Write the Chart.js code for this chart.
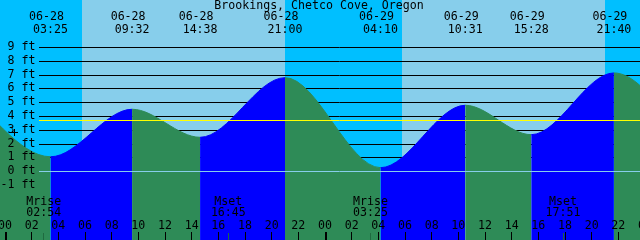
<!DOCTYPE html>
<html>
<head>
<meta charset="utf-8">
<script src="https://cdn.jsdelivr.net/npm/chart.js@4.4.1/dist/chart.umd.min.js"></script>
<style>
html,body{margin:0;padding:0;background:#00BFFF;overflow:hidden;}
canvas{display:block;}
</style>
</head>
<body>
<canvas id="c" width="640" height="240"></canvas>
<script>
// ---- data ----
const title = 'Brookings, Chetco Cove, Oregon';
// tide extremes (first and last lie just outside the visible window)
const tideTimes   = ['06-27 20:20','06-28 03:25','06-28 09:32','06-28 14:38','06-28 21:00','06-29 04:10','06-29 10:31','06-29 15:28','06-29 21:40','06-30 04:55'];
const tideHeights = [6.4, 1.05, 4.49, 2.46, 6.78, 0.26, 4.78, 2.65, 7.12, -0.1];
// events labelled at the top
const topLabelIdx = [1,2,3,4,5,6,7,8];
// sun
const sunriseTimes = ['06-28 05:47','06-29 05:47'];
const sunsetTimes  = ['06-28 21:00','06-29 21:00'];
// moon
const moonLabels = ['Mrise','Mset','Mrise','Mset'];
const moonTimes  = ['06-28 02:54','06-28 16:45','06-29 03:25','06-29 17:51'];
// axes
const yTickValues = [9,8,7,6,5,4,3,2,1,0,-1];
const yTickLabels = ['9 ft','8 ft','7 ft','6 ft','5 ft','4 ft','3 ft','2 ft','1 ft','0 ft','-1 ft'];
const hourTickValues = [0,2,4,6,8,10,12,14,16,18,20,22,24,26,28,30,32,34,36,38,40,42,44,46,48];
const hourTickLabels = ['00','02','04','06','08','10','12','14','16','18','20','22','00','02','04','06','08','10','12','14','16','18','20','22','00'];
const meanLevel = 3.69;

// ---- helpers ----
function toHours(s){
  const [d,t] = s.split(' ');
  const day = parseInt(d.split('-')[1],10);
  const [hh,mm] = t.split(':').map(Number);
  return (day-28)*24 + hh + mm/60;
}
const points = tideTimes.map((t,i)=>({x:toHours(t), y:tideHeights[i]}));
const RISE = '#0000FF', FALL = '#2E8B57';
const segColor = ctx => (ctx.p1.parsed.y > ctx.p0.parsed.y ? RISE : FALL);
const FONT = '11.6px "DejaVu Sans Mono", "Liberation Mono", monospace';

const drawPlugin = {
  id:'tideDeco',
  beforeDraw(chart){
    const {ctx, scales:{x,y}} = chart;
    ctx.save();
    ctx.fillStyle = '#00BFFF';
    ctx.fillRect(0,0,chart.width,chart.height);
    ctx.fillStyle = '#87CEEB';
    for(let i=0;i<sunriseTimes.length;i++){
      const x0 = x.getPixelForValue(toHours(sunriseTimes[i]));
      const x1 = x.getPixelForValue(toHours(sunsetTimes[i]));
      ctx.fillRect(Math.round(x0),0,Math.round(x1)-Math.round(x0),chart.height);
    }
    // grid lines (under the water)
    ctx.strokeStyle = '#000';
    ctx.lineWidth = 1;
    for(const v of yTickValues){
      if(v<=0) continue;
      const py = Math.round(y.getPixelForValue(v))+0.5;
      ctx.beginPath(); ctx.moveTo(39,py); ctx.lineTo(chart.width,py); ctx.stroke();
    }
    ctx.restore();
  },
  afterDatasetsDraw(chart){
    const {ctx, scales:{x,y}} = chart;
    ctx.save();
    // zero & mean lines
    ctx.lineWidth = 1;
    ctx.strokeStyle = '#87CEEB';
    let py = Math.round(y.getPixelForValue(0))+0.5;
    ctx.beginPath(); ctx.moveTo(39,py); ctx.lineTo(chart.width,py); ctx.stroke();
    ctx.strokeStyle = '#FFFF00';
    py = Math.round(y.getPixelForValue(meanLevel))+0.5;
    ctx.beginPath(); ctx.moveTo(39,py); ctx.lineTo(chart.width,py); ctx.stroke();

    ctx.fillStyle = '#000';
    ctx.font = FONT;
    ctx.textBaseline = 'middle';
    // title
    ctx.textAlign = 'center';
    ctx.fillText(title, 319, 6);
    // top event labels
    for(const i of topLabelIdx){
      const px = x.getPixelForValue(points[i].x);
      const [d,t] = tideTimes[i].split(' ');
      ctx.fillText(d, px-4, 17);
      ctx.fillText(t, px, 30);
    }
    // y labels
    ctx.textAlign = 'right';
    yTickValues.forEach((v,i)=>{
      ctx.fillText(yTickLabels[i], 35.5, y.getPixelForValue(v));
    });
    // plus marker
    ctx.fillRect(11,132,7,1);
    ctx.fillRect(14,129,1,7);
    // moon labels
    ctx.textAlign = 'center';
    moonTimes.forEach((t,i)=>{
      const px = x.getPixelForValue(toHours(t));
      ctx.fillStyle = '#000';
      ctx.fillText(moonLabels[i], px, 202);
      ctx.fillText(t.split(' ')[1], px, 213);
      ctx.fillStyle = '#1f6a40';
      ctx.fillRect(Math.floor(px),233,1,7);
    });
    // hour ticks
    ctx.fillStyle = '#000';
    hourTickValues.forEach((v,i)=>{
      const px = x.getPixelForValue(v);
      ctx.fillText(hourTickLabels[i], px, 226);
      if(v % 24 === 0) ctx.fillRect(Math.round(px),232,2,8);
      else ctx.fillRect(Math.floor(px),232,1,8);
    });
    ctx.restore();
  }
};

new Chart(document.getElementById('c'), {
  type:'line',
  data:{
    datasets:[{
      data: points,
      fill: 'start',
      borderWidth: 1,
      pointRadius: 0,
      cubicInterpolationMode: 'monotone',
      segment:{ borderColor: segColor, backgroundColor: segColor },
      borderColor: FALL,
      backgroundColor: FALL
    }]
  },
  options:{
    responsive:false,
    animation:false,
    devicePixelRatio:1,
    layout:{padding:0},
    events:[],
    plugins:{legend:{display:false}, tooltip:{enabled:false}, title:{display:false}},
    scales:{
      x:{type:'linear', min:-0.375, max:47.625, display:false},
      y:{type:'linear', min:-4.975, max:12.4, display:false}
    }
  },
  plugins:[drawPlugin]
});
</script>
</body>
</html>
